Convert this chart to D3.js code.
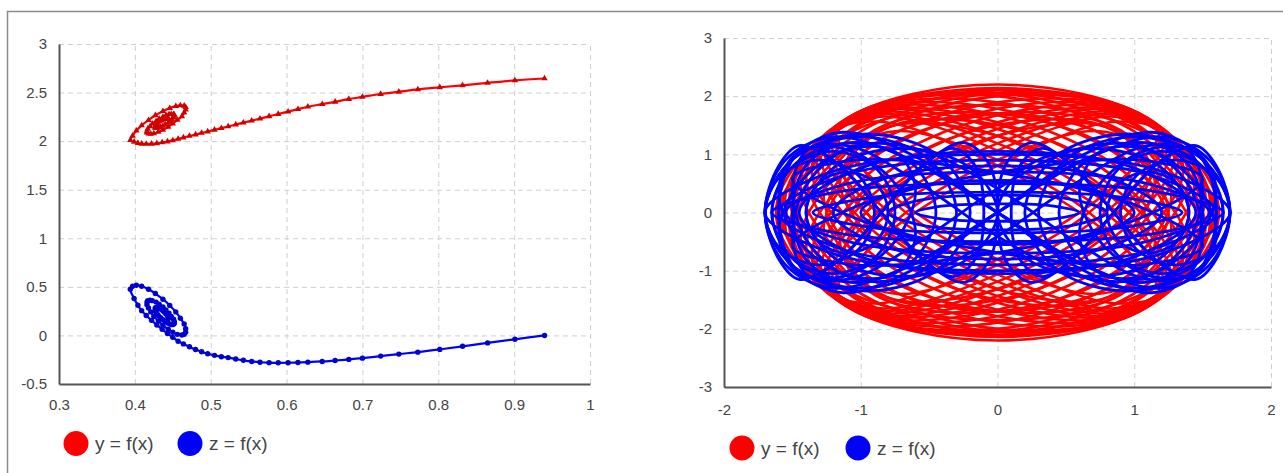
<!DOCTYPE html>
<html>
<head>
<meta charset="utf-8">
<script src="https://cdn.jsdelivr.net/npm/d3@7"></script>
<style>
  body { margin: 0; background: #fff; }
  text { font-family: Arial, "Liberation Sans", sans-serif; }
</style>
</head>
<body>
<svg id="chart" width="1283" height="473"></svg>
<script>
// left chart: one trajectory, x against y (red) and x against z (blue)
const leftX = [0.940, 0.901, 0.865, 0.832, 0.802, 0.773, 0.748, 0.724, 0.700, 0.682, 0.664, 0.647, 0.628,
  0.615, 0.602, 0.589, 0.577, 0.565, 0.554, 0.543, 0.533, 0.523, 0.514, 0.505, 0.496, 0.488, 0.480,
  0.472, 0.464, 0.457, 0.450, 0.443, 0.436, 0.429, 0.422, 0.415, 0.409, 0.404, 0.399,
  0.394, 0.397, 0.402, 0.409, 0.418, 0.427, 0.437, 0.446, 0.454, 0.460,
  0.465, 0.467, 0.467, 0.465, 0.462, 0.456, 0.450, 0.444, 0.437, 0.431,
  0.425, 0.421, 0.418, 0.416, 0.416, 0.417, 0.420, 0.423, 0.428, 0.432,
  0.437, 0.441, 0.445, 0.448, 0.451, 0.452, 0.452, 0.451, 0.449, 0.447,
  0.444, 0.440, 0.437, 0.434, 0.431, 0.429, 0.427, 0.427, 0.427, 0.427,
  0.429, 0.430, 0.432, 0.435, 0.437, 0.439, 0.441, 0.443, 0.444, 0.444, 0.444];
const leftY = [2.645, 2.625, 2.600, 2.575, 2.554, 2.533, 2.508, 2.485, 2.455, 2.433, 2.405, 2.381, 2.354,
  2.329, 2.304, 2.279, 2.256, 2.232, 2.211, 2.190, 2.171, 2.151, 2.134, 2.117, 2.099, 2.084, 2.068,
  2.053, 2.037, 2.022, 2.008, 1.996, 1.986, 1.978, 1.973, 1.971, 1.973, 1.980, 1.993,
  2.010, 2.055, 2.107, 2.162, 2.216, 2.266, 2.308, 2.340, 2.360, 2.368,
  2.364, 2.349, 2.325, 2.293, 2.256, 2.218, 2.180, 2.146, 2.116, 2.094,
  2.080, 2.074, 2.077, 2.087, 2.104, 2.127, 2.152, 2.179, 2.206, 2.230,
  2.250, 2.266, 2.276, 2.280, 2.278, 2.271, 2.259, 2.243, 2.225, 2.206,
  2.188, 2.171, 2.156, 2.145, 2.138, 2.136, 2.137, 2.142, 2.151, 2.161,
  2.174, 2.187, 2.200, 2.212, 2.222, 2.230, 2.235, 2.237, 2.236, 2.232, 2.226];
const leftZ = [0.000, -0.040, -0.077, -0.112, -0.144, -0.172, -0.192, -0.213, -0.234, -0.247, -0.258, -0.268, -0.275,
  -0.278, -0.281, -0.282, -0.280, -0.276, -0.268, -0.256, -0.243, -0.228, -0.219, -0.205, -0.188, -0.168, -0.145,
  -0.117, -0.087, -0.060, -0.020, 0.020, 0.063, 0.108, 0.155, 0.205, 0.255, 0.310, 0.380,
  0.476, 0.507, 0.517, 0.506, 0.476, 0.431, 0.373, 0.309, 0.242, 0.177,
  0.118, 0.069, 0.033, 0.011, 0.004, 0.011, 0.032, 0.064, 0.104, 0.150,
  0.196, 0.242, 0.283, 0.317, 0.343, 0.358, 0.363, 0.358, 0.343, 0.321,
  0.293, 0.261, 0.228, 0.196, 0.167, 0.143, 0.126, 0.115, 0.111, 0.115,
  0.125, 0.141, 0.161, 0.183, 0.206, 0.228, 0.248, 0.265, 0.278, 0.285,
  0.288, 0.285, 0.278, 0.267, 0.253, 0.238, 0.221, 0.206, 0.192, 0.180, 0.171];
const leftXTicks = [0.3, 0.4, 0.5, 0.6, 0.7, 0.8, 0.9, 1];
const leftYTicks = [-0.5, 0, 0.5, 1, 1.5, 2, 2.5, 3];

// right chart: loops of the long trajectory
const rightRed = [
  [[1.62,0],[1.145,1.556],[0,2.2],[-1.145,1.556],[-1.62,0],[-1.145,-1.556],[0,-2.2],[1.145,-1.556]],
  [[1.58,0],[1.117,1.513],[0,2.14],[-1.117,1.513],[-1.58,0],[-1.117,-1.513],[0,-2.14],[1.117,-1.513]],
  [[1.5,0],[1.061,1.449],[0,2.05],[-1.061,1.449],[-1.5,0],[-1.061,-1.449],[0,-2.05],[1.061,-1.449]],
  [[1.554,0.184],[1.099,1.616],[0,2.102],[-1.099,1.357],[-1.554,-0.184],[-1.099,-1.616],[0,-2.102],[1.099,-1.357]],
  [[-1.554,0.184],[-1.099,1.616],[0,2.102],[1.099,1.357],[1.554,-0.184],[1.099,-1.616],[0,-2.102],[-1.099,-1.357]],
  [[1.52,0.288],[1.075,1.654],[0,2.049],[-1.075,1.275],[-1.52,-0.288],[-1.075,-1.654],[0,-2.049],[1.075,-1.275]],
  [[1.52,-0.288],[1.075,1.275],[0,2.049],[-1.075,1.654],[-1.52,0.288],[-1.075,-1.275],[0,-2.049],[1.075,-1.654]],
  [[1.495,0.353],[1.057,1.663],[0,2.0],[-1.057,1.166],[-1.495,-0.353],[-1.057,-1.663],[0,-2.0],[1.057,-1.166]],
  [[-1.495,0.353],[-1.057,1.663],[0,2.0],[1.057,1.166],[1.495,-0.353],[1.057,-1.663],[0,-2.0],[-1.057,-1.166]],
  [[1.44,0.508],[1.018,1.697],[0,1.893],[-1.018,0.98],[-1.44,-0.508],[-1.018,-1.697],[0,-1.893],[1.018,-0.98]],
  [[1.44,-0.508],[1.018,0.98],[0,1.893],[-1.018,1.697],[-1.44,0.508],[-1.018,-0.98],[0,-1.893],[1.018,-1.697]],
  [[1.398,0.649],[0.988,1.72],[0,1.785],[-0.988,0.803],[-1.398,-0.649],[-0.988,-1.72],[0,-1.785],[0.988,-0.803]],
  [[-1.398,0.649],[-0.988,1.72],[0,1.785],[0.988,0.803],[1.398,-0.649],[0.988,-1.72],[0,-1.785],[-0.988,-0.803]],
  [[1.358,0.78],[0.96,1.733],[0,1.671],[-0.96,0.631],[-1.358,-0.78],[-0.96,-1.733],[0,-1.671],[0.96,-0.631]],
  [[-1.358,0.78],[-0.96,1.733],[0,1.671],[0.96,0.631],[1.358,-0.78],[0.96,-1.733],[0,-1.671],[-0.96,-0.631]],
  [[1.32,0.895],[0.933,1.729],[0,1.55],[-0.933,0.464],[-1.32,-0.895],[-0.933,-1.729],[0,-1.55],[0.933,-0.464]],
  [[1.32,-0.895],[0.933,0.464],[0,1.55],[-0.933,1.729],[-1.32,0.895],[-0.933,-0.464],[0,-1.55],[0.933,-1.729]],
  [[1.291,1.006],[0.913,1.727],[0,1.436],[-0.913,0.305],[-1.291,-1.006],[-0.913,-1.727],[0,-1.436],[0.913,-0.305]],
  [[-1.291,1.006],[-0.913,1.727],[0,1.436],[0.913,0.305],[1.291,-1.006],[0.913,-1.727],[0,-1.436],[-0.913,-0.305]],
  [[1.264,1.103],[0.894,1.709],[0,1.314],[-0.894,0.149],[-1.264,-1.103],[-0.894,-1.709],[0,-1.314],[0.894,-0.149]],
  [[-1.264,1.103],[-0.894,1.709],[0,1.314],[0.894,0.149],[1.264,-1.103],[0.894,-1.709],[0,-1.314],[-0.894,-0.149]],
  [[1.24,1.188],[0.877,1.68],[0,1.188],[-0.877,0],[-1.24,-1.188],[-0.877,-1.68],[0,-1.188],[0.877,0]],
  [[1.24,-1.188],[0.877,0],[0,1.188],[-0.877,1.68],[-1.24,1.188],[-0.877,0],[0,-1.188],[0.877,-1.68]],
  [[1.218,1.267],[0.861,1.647],[0,1.064],[-0.861,-0.144],[-1.218,-1.267],[-0.861,-1.647],[0,-1.064],[0.861,0.144]],
  [[-1.218,1.267],[-0.861,1.647],[0,1.064],[0.861,-0.144],[1.218,-1.267],[0.861,-1.647],[0,-1.064],[-0.861,0.144]],
  [[1.18,1.394],[0.834,1.555],[0,0.805],[-0.834,-0.417],[-1.18,-1.394],[-0.834,-1.555],[0,-0.805],[0.834,0.417]],
  [[1.18,-1.394],[0.834,-0.417],[0,0.805],[-0.834,1.555],[-1.18,1.394],[-0.834,0.417],[0,-0.805],[0.834,-1.555]],
  [[1.6,0],[1.131,1.308],[0,1.85],[-1.131,1.308],[-1.6,0],[-1.131,-1.308],[0,-1.85],[1.131,-1.308]],
  [[1.25,0],[0.884,1.202],[0,1.7],[-0.884,1.202],[-1.25,0],[-0.884,-1.202],[0,-1.7],[0.884,-1.202]],
  [[1.15,0.547],[0.813,1.45],[0,1.504],[-0.813,0.677],[-1.15,-0.547],[-0.813,-1.45],[0,-1.504],[0.813,-0.677]],
  [[1.15,-0.547],[0.813,0.677],[0,1.504],[-0.813,1.45],[-1.15,0.547],[-0.813,-0.677],[0,-1.504],[0.813,-1.45]],
  [[1.271,0.3],[0.899,1.414],[0,1.7],[-0.899,0.991],[-1.271,-0.3],[-0.899,-1.414],[0,-1.7],[0.899,-0.991]],
  [[-1.271,0.3],[-0.899,1.414],[0,1.7],[0.899,0.991],[1.271,-0.3],[0.899,-1.414],[0,-1.7],[-0.899,-0.991]],
  [[1.122,0.761],[0.793,1.47],[0,1.318],[-0.793,0.394],[-1.122,-0.761],[-0.793,-1.47],[0,-1.318],[0.793,-0.394]],
  [[-1.122,0.761],[-0.793,1.47],[0,1.318],[0.793,0.394],[1.122,-0.761],[0.793,-1.47],[0,-1.318],[-0.793,-0.394]],
  [[1.035,1.077],[0.732,1.4],[0,0.904],[-0.732,-0.122],[-1.035,-1.077],[-0.732,-1.4],[0,-0.904],[0.732,0.122]],
  [[-1.035,1.077],[-0.732,1.4],[0,0.904],[0.732,-0.122],[1.035,-1.077],[0.732,-1.4],[0,-0.904],[-0.732,0.122]]
];
const rightBlue = [
  [[1.7,0],[1.55,0.9],[1.202,1.3],[0.651,0.919],[0,0],[-0.651,-0.919],[-1.202,-1.3],[-1.55,-0.9],
   [-1.7,0],[-1.55,0.9],[-1.202,1.3],[-0.651,0.919],[0,0],[0.651,-0.919],[1.202,-1.3],[1.55,-0.9]],
  [[1.6,0],[1.478,0.976],[1.131,1.38],[0.613,0.976],[0,0],[-0.613,-0.976],[-1.131,-1.38],[-1.478,-0.976],
   [-1.6,0],[-1.478,0.976],[-1.131,1.38],[-0.613,0.976],[0,0],[0.613,-0.976],[1.131,-1.38],[1.478,-0.976]],
  [[1.5,0],[1.386,0.848],[1.061,1.2],[0.575,0.848],[0,0],[-0.575,-0.848],[-1.061,-1.2],[-1.386,-0.848],
   [-1.5,0],[-1.386,0.848],[-1.061,1.2],[-0.575,0.848],[0,0],[0.575,-0.848],[1.061,-1.2],[1.386,-0.848]],
  [[1.5,0.41],[1.386,1.087],[1.061,1.128],[0.575,0.508],[0,-0.41],[-0.575,-1.087],[-1.061,-1.128],[-1.386,-0.508],
   [-1.5,0.41],[-1.386,1.087],[-1.061,1.128],[-0.575,0.508],[0,-0.41],[0.575,-1.087],[1.061,-1.128],[1.386,-0.508]],
  [[1.5,-0.41],[1.386,0.508],[1.061,1.128],[0.575,1.087],[0,0.41],[-0.575,-0.508],[-1.061,-1.128],[-1.386,-1.087],
   [-1.5,-0.41],[-1.386,0.508],[-1.061,1.128],[-0.575,1.087],[0,0.41],[0.575,-0.508],[1.061,-1.128],[1.386,-1.087]],
  [[0,0],[-0.065,0.848],[-0.249,1.2],[-0.524,0.848],[-0.85,0],[-1.176,-0.848],[-1.451,-1.15],[-1.6,-0.8],
   [-1.7,0],[-1.6,0.8],[-1.451,1.15],[-1.176,0.848],[-0.85,0],[-0.524,-0.848],[-0.249,-1.2],[-0.065,-0.848]],
  [[0,0],[0.065,0.848],[0.249,1.2],[0.524,0.848],[0.85,0],[1.176,-0.848],[1.451,-1.15],[1.6,-0.8],
   [1.7,0],[1.6,0.8],[1.451,1.15],[1.176,0.848],[0.85,0],[0.524,-0.848],[0.249,-1.2],[0.065,-0.848]],
  [[-0.1,0],[-0.157,0.778],[-0.32,1.1],[-0.563,0.778],[-0.85,0],[-1.137,-0.778],[-1.38,-1.1],[-1.543,-0.778],
   [-1.6,0],[-1.543,0.778],[-1.38,1.1],[-1.137,0.778],[-0.85,0],[-0.563,-0.778],[-0.32,-1.1],[-0.157,-0.778]],
  [[0.1,0],[0.157,0.778],[0.32,1.1],[0.563,0.778],[0.85,0],[1.137,-0.778],[1.38,-1.1],[1.543,-0.778],
   [1.6,0],[1.543,0.778],[1.38,1.1],[1.137,0.778],[0.85,0],[0.563,-0.778],[0.32,-1.1],[0.157,-0.778]],
  [[-0.3,0],[-0.505,0.919],[-1.0,1.3],[-1.495,0.919],[-1.7,0],[-1.495,-0.919],[-1.0,-1.3],[-0.505,-0.919]],
  [[1.7,0],[1.495,0.919],[1.0,1.3],[0.505,0.919],[0.3,0],[0.505,-0.919],[1.0,-1.3],[1.495,-0.919]],
  [[-0.2,0],[-0.42,0.954],[-0.95,1.35],[-1.48,0.954],[-1.7,0],[-1.48,-0.954],[-0.95,-1.35],[-0.42,-0.954]],
  [[0.2,0],[0.42,0.954],[0.95,1.35],[1.48,0.954],[1.7,0],[1.48,-0.954],[0.95,-1.35],[0.42,-0.954]],
  [[-0.45,0],[-0.626,0.848],[-1.05,1.2],[-1.474,0.848],[-1.65,0],[-1.474,-0.848],[-1.05,-1.2],[-0.626,-0.848]],
  [[0.45,0],[0.626,0.848],[1.05,1.2],[1.474,0.848],[1.65,0],[1.474,-0.848],[1.05,-1.2],[0.626,-0.848]],
  [[0,0],[-0.205,0.778],[-0.7,1.1],[-1.195,0.778],[-1.4,0],[-1.195,-0.778],[-0.7,-1.1],[-0.205,-0.778]],
  [[0,0],[0.205,0.778],[0.7,1.1],[1.195,0.778],[1.4,0],[1.195,-0.778],[0.7,-1.1],[0.205,-0.778]],
  [[-0.6,0.393],[-0.746,1.042],[-1.1,1.081],[-1.454,0.486],[-1.6,-0.393],[-1.454,-1.042],[-1.1,-1.081],[-0.746,-0.486]],
  [[-0.6,-0.393],[-0.746,0.486],[-1.1,1.081],[-1.454,1.042],[-1.6,0.393],[-1.454,-0.486],[-1.1,-1.081],[-0.746,-1.042]],
  [[0.6,0.393],[0.746,1.042],[1.1,1.081],[1.454,0.486],[1.6,-0.393],[1.454,-1.042],[1.1,-1.081],[0.746,-0.486]],
  [[0.6,-0.393],[0.746,0.486],[1.1,1.081],[1.454,1.042],[1.6,0.393],[1.454,-0.486],[1.1,-1.081],[0.746,-1.042]],
  [[-0.75,0],[-0.882,0.742],[-1.2,1.05],[-1.518,0.742],[-1.65,0],[-1.518,-0.742],[-1.2,-1.05],[-0.882,-0.742]],
  [[1.65,0],[1.518,0.742],[1.2,1.05],[0.882,0.742],[0.75,0],[0.882,-0.742],[1.2,-1.05],[1.518,-0.742]],
  [[-0.9,0],[-1.017,0.636],[-1.3,0.9],[-1.583,0.636],[-1.7,0],[-1.583,-0.636],[-1.3,-0.9],[-1.017,-0.636]],
  [[0.9,0],[1.017,0.636],[1.3,0.9],[1.583,0.636],[1.7,0],[1.583,-0.636],[1.3,-0.9],[1.017,-0.636]],
  [[-0.8,0],[-0.888,0.495],[-1.1,0.7],[-1.312,0.495],[-1.4,0],[-1.312,-0.495],[-1.1,-0.7],[-0.888,-0.495]],
  [[1.4,0],[1.312,0.495],[1.1,0.7],[0.888,0.495],[0.8,0],[0.888,-0.495],[1.1,-0.7],[1.312,-0.495]],
  [[1.7,0],[1.202,0.707],[0,1.0],[-1.202,0.707],[-1.7,0],[-1.202,-0.707],[0,-1.0],[1.202,-0.707]],
  [[1.6,0],[1.131,0.636],[0,0.9],[-1.131,0.636],[-1.6,0],[-1.131,-0.636],[0,-0.9],[1.131,-0.636]],
  [[1.45,0],[1.025,0.742],[0,1.05],[-1.025,0.742],[-1.45,0],[-1.025,-0.742],[0,-1.05],[1.025,-0.742]],
  [[1.55,0],[1.096,0.495],[0,0.7],[-1.096,0.495],[-1.55,0],[-1.096,-0.495],[0,-0.7],[1.096,-0.495]],
  [[1.5,0.579],[1.061,0.896],[0,0.689],[-1.061,0.078],[-1.5,-0.579],[-1.061,-0.896],[0,-0.689],[1.061,-0.078]],
  [[-1.5,0.579],[-1.061,0.896],[0,0.689],[1.061,0.078],[1.5,-0.579],[1.061,-0.896],[0,-0.689],[-1.061,-0.078]],
  [[1.2,0],[0.848,0.566],[0,0.8],[-0.848,0.566],[-1.2,0],[-0.848,-0.566],[0,-0.8],[0.848,-0.566]],
  [[1.65,0],[1.167,0.354],[0,0.5],[-1.167,0.354],[-1.65,0],[-1.167,-0.354],[0,-0.5],[1.167,-0.354]],
  [[1.35,0],[0.955,0.247],[0,0.35],[-0.955,0.247],[-1.35,0],[-0.955,-0.247],[0,-0.35],[0.955,-0.247]],
  [[1,0],[0.707,0.389],[0,0.55],[-0.707,0.389],[-1,0],[-0.707,-0.389],[0,-0.55],[0.707,-0.389]],
  [[0.8,0],[0.566,0.212],[0,0.3],[-0.566,0.212],[-0.8,0],[-0.566,-0.212],[0,-0.3],[0.566,-0.212]],
  [[0.6,0],[0.424,0.106],[0,0.15],[-0.424,0.106],[-0.6,0],[-0.424,-0.106],[0,-0.15],[0.424,-0.106]]
];
const rightXTicks = [-2, -1, 0, 1, 2];
const rightYTicks = [-3, -2, -1, 0, 1, 2, 3];
const seriesNames = ['y = f(x)', 'z = f(x)'];
const seriesColors = ['#ff0000', '#0000ff'];

const svg = d3.select('#chart');

svg.append('rect')
  .attr('x', 7.5).attr('y', 11.5)
  .attr('width', 1290).attr('height', 500)
  .attr('fill', 'none')
  .attr('stroke', '#8c8c8c')
  .attr('stroke-width', 1.5);

const xL = d3.scaleLinear().domain([0.3, 1]).range([59, 590]);
const yL = d3.scaleLinear().domain([-0.5, 3]).range([384, 44]);
const xR = d3.scaleLinear().domain([-2, 2]).range([724, 1271]);
const yR = d3.scaleLinear().domain([-3, 3]).range([387, 38]);

function grid(x, y, xTicks, yTicks) {
  const w = x.range()[1] - x.range()[0];
  const h = y.range()[0] - y.range()[1];
  const gx = svg.append('g')
    .attr('transform', `translate(0, ${y.range()[0]})`)
    .call(d3.axisBottom(x).tickValues(xTicks.slice(1)).tickSize(-h).tickFormat(''));
  const gy = svg.append('g')
    .attr('transform', `translate(${x.range()[0]}, 0)`)
    .call(d3.axisLeft(y).tickValues(yTicks.slice(1)).tickSize(-w).tickFormat(''));
  [gx, gy].forEach(g => {
    g.select('.domain').remove();
    g.selectAll('line')
      .attr('stroke', '#cfcfcf')
      .attr('stroke-width', 1)
      .attr('stroke-dasharray', '5,4');
  });
}

function axes(x, y, xTicks, yTicks, xPad, yPad) {
  const gx = svg.append('g')
    .attr('transform', `translate(0, ${y.range()[0]})`)
    .call(d3.axisBottom(x).tickValues(xTicks).tickSize(0).tickSizeOuter(0).tickPadding(xPad).tickFormat(d => String(d)));
  const gy = svg.append('g')
    .attr('transform', `translate(${x.range()[0]}, 0)`)
    .call(d3.axisLeft(y).tickValues(yTicks).tickSize(0).tickSizeOuter(0).tickPadding(yPad).tickFormat(d => String(d)));
  [gx, gy].forEach(g => {
    g.select('.domain').attr('stroke', '#555').attr('stroke-width', 2);
    g.selectAll('text')
      .attr('fill', '#444')
      .style('font-size', '15px')
      .style('font-family', 'Arial, "Liberation Sans", sans-serif');
  });
}

function legend(x0, y0, x1) {
  [x0, x1].forEach((cx, i) => {
    svg.append('circle')
      .attr('cx', cx).attr('cy', y0).attr('r', 12.5)
      .attr('fill', seriesColors[i]);
    svg.append('text')
      .attr('x', cx + 19).attr('y', y0 + 6.5)
      .attr('fill', '#444')
      .style('font-size', '19px')
      .text(seriesNames[i]);
  });
}

// ----- left chart -----
grid(xL, yL, leftXTicks, leftYTicks);

const leftRed = leftX.map((x, i) => [x, leftY[i]]);
const leftBlue = leftX.map((x, i) => [x, leftZ[i]]);
const lineL = d3.line()
  .x(d => xL(d[0]))
  .y(d => yL(d[1]))
  .curve(d3.curveCatmullRom);

svg.append('path')
  .datum(leftRed)
  .attr('d', lineL)
  .attr('fill', 'none')
  .attr('stroke', '#ff0000')
  .attr('stroke-width', 2.2);

svg.selectAll('.tri')
  .data(leftRed)
  .enter().append('path')
  .attr('class', 'tri')
  .attr('transform', d => `translate(${xL(d[0])}, ${yL(d[1])})`)
  .attr('d', d3.symbol().type(d3.symbolTriangle).size(18))
  .attr('fill', '#d00000');

svg.append('path')
  .datum(leftBlue)
  .attr('d', lineL)
  .attr('fill', 'none')
  .attr('stroke', '#0000ff')
  .attr('stroke-width', 2.2);

svg.selectAll('.dot')
  .data(leftBlue)
  .enter().append('circle')
  .attr('class', 'dot')
  .attr('cx', d => xL(d[0]))
  .attr('cy', d => yL(d[1]))
  .attr('r', 2.7)
  .attr('fill', '#0000d0');

axes(xL, yL, leftXTicks, leftYTicks, 15, 12);
legend(76, 443.5, 190);

// ----- right chart -----
grid(xR, yR, rightXTicks, rightYTicks);

const loopR = d3.line()
  .x(d => xR(d[0]))
  .y(d => yR(d[1]))
  .curve(d3.curveCatmullRomClosed);

svg.append('g').selectAll('path')
  .data(rightRed)
  .enter().append('path')
  .attr('d', loopR)
  .attr('fill', 'none')
  .attr('stroke', '#ff0000')
  .attr('stroke-width', 2.6);

svg.append('g').selectAll('path')
  .data(rightBlue)
  .enter().append('path')
  .attr('d', loopR)
  .attr('fill', 'none')
  .attr('stroke', '#0000ff')
  .attr('stroke-width', 2.8);

axes(xR, yR, rightXTicks, rightYTicks, 17, 12);
legend(742, 448, 858);
</script>
</body>
</html>
